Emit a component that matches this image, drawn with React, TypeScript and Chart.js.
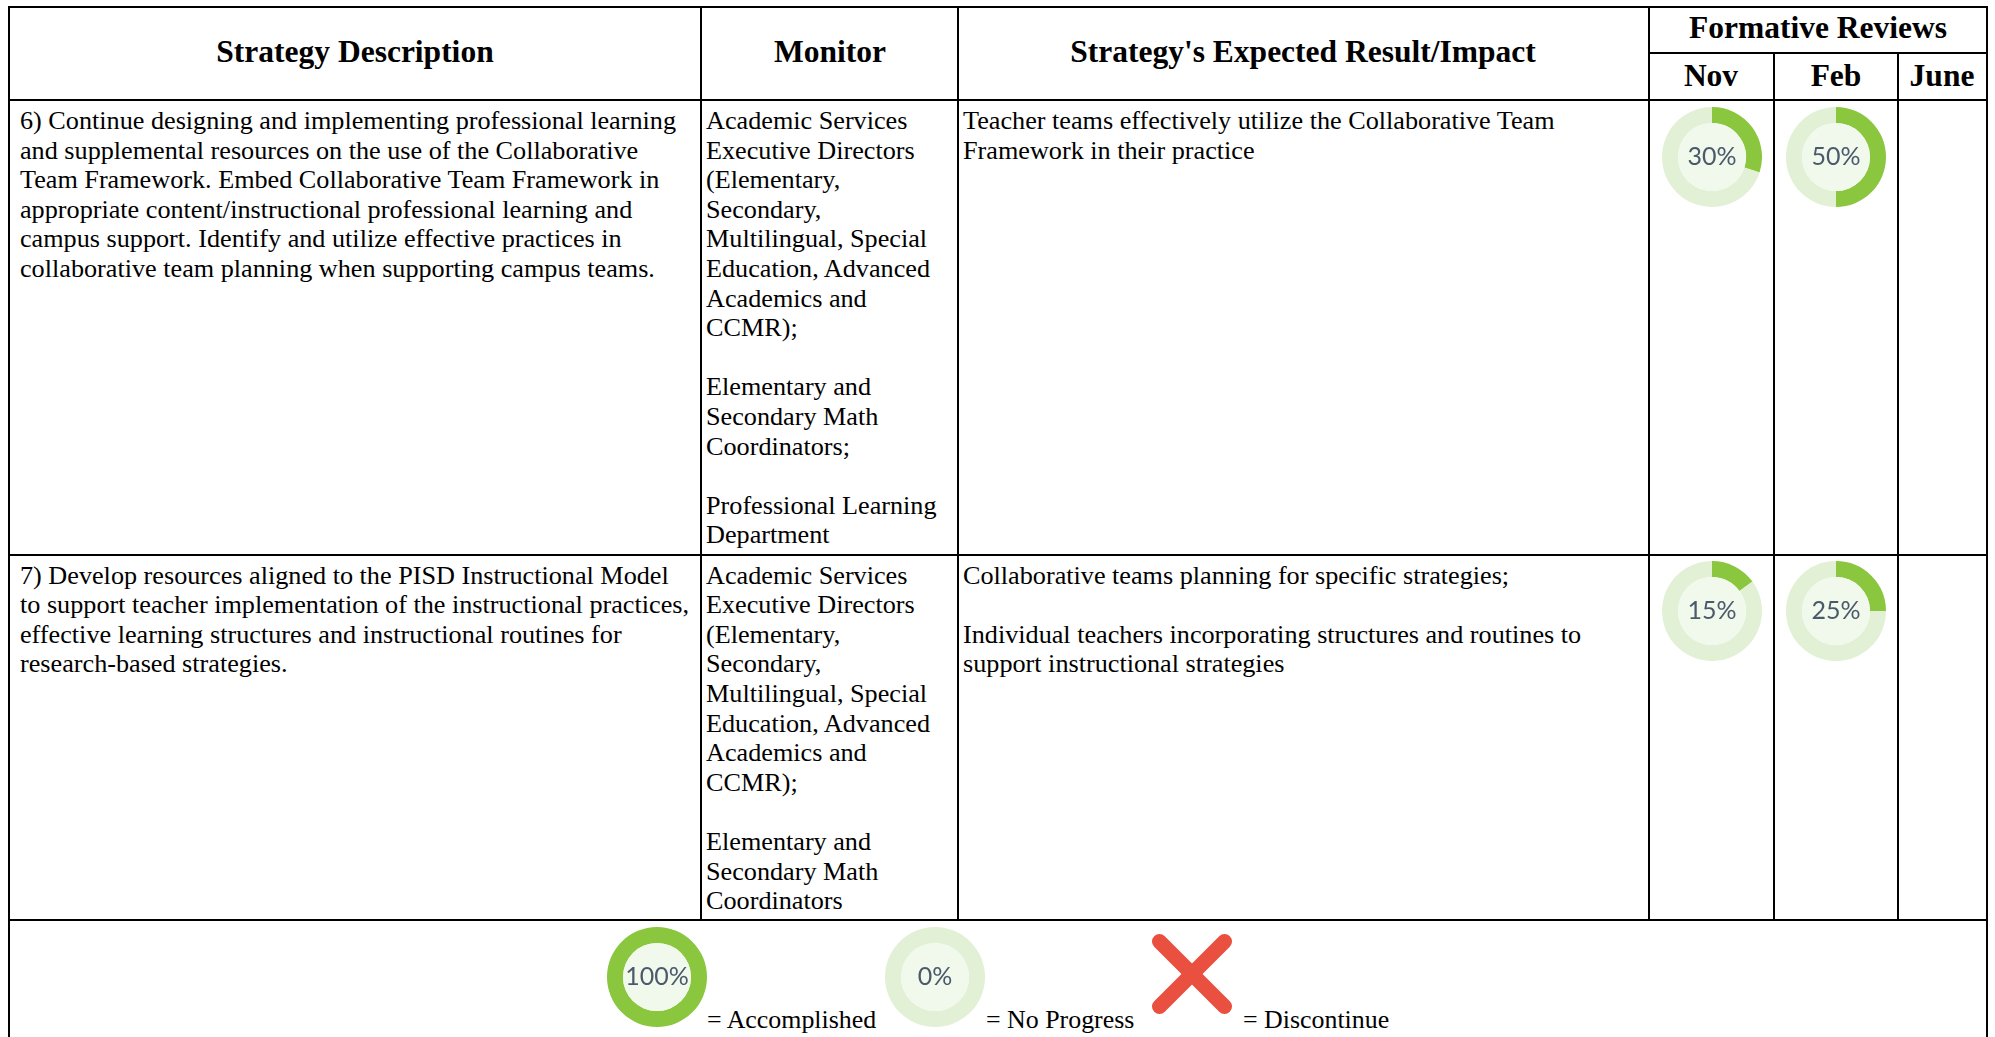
import React, { useEffect, useRef } from "react";
import { Chart, registerables } from "chart.js";

Chart.register(...registerables);

const headers = ["Strategy Description", "Monitor", "Strategy's Expected Result/Impact"];
const reviewTitle = "Formative Reviews";
const reviewMonths = ["Nov", "Feb", "June"];

const strategy6 = [
  "6) Continue designing and implementing professional learning",
  "and supplemental resources on the use of the Collaborative",
  "Team Framework. Embed Collaborative Team Framework in",
  "appropriate content/instructional professional learning and",
  "campus support. Identify and utilize effective practices in",
  "collaborative team planning when supporting campus teams.",
];
const monitor6 = [
  "Academic Services", "Executive Directors", "(Elementary,", "Secondary,",
  "Multilingual, Special", "Education, Advanced", "Academics and", "CCMR);", "",
  "Elementary and", "Secondary Math", "Coordinators;", "",
  "Professional Learning", "Department",
];
const impact6 = [
  "Teacher teams effectively utilize the Collaborative Team",
  "Framework in their practice",
];
const strategy7 = [
  "7) Develop resources aligned to the PISD Instructional Model",
  "to support teacher implementation of the instructional practices,",
  "effective learning structures and instructional routines for",
  "research-based strategies.",
];
const monitor7 = [
  "Academic Services", "Executive Directors", "(Elementary,", "Secondary,",
  "Multilingual, Special", "Education, Advanced", "Academics and", "CCMR);", "",
  "Elementary and", "Secondary Math", "Coordinators",
];
const impact7 = [
  "Collaborative teams planning for specific strategies;", "",
  "Individual teachers incorporating structures and routines to",
  "support instructional strategies",
];

const row6Reviews = [30, 50];
const row7Reviews = [15, 25];
const legendAccomplished = 100;
const legendNoProgress = 0;
const legendLabels = ["= Accomplished", "= No Progress", "= Discontinue"];
const crossStrokeA = [{ x: 0, y: 0 }, { x: 1, y: 1 }];
const crossStrokeB = [{ x: 0, y: 1 }, { x: 1, y: 0 }];

const SERIF = '"Liberation Serif", "Times New Roman", serif';
const DONE = "#8AC73F";
const TODO = "#E2F0D5";
const HOLE = "#F1F8EC";
const RED = "#E95040";

function Donut({ value, cx, cy }: { value: number; cx: number; cy: number }) {
  const ref = useRef<HTMLCanvasElement>(null);
  useEffect(() => {
    const chart = new Chart(ref.current!, {
      type: "doughnut",
      data: {
        labels: ["Progress", "Remaining"],
        datasets: [{ data: [value, 100 - value], backgroundColor: [DONE, TODO], borderWidth: 0 }],
      },
      options: {
        animation: false,
        responsive: false,
        cutout: "68%",
        layout: { padding: 0 },
        plugins: { legend: { display: false }, tooltip: { enabled: false } },
      },
      plugins: [{
        id: "centerLabel",
        afterDraw(c: any) {
          const { ctx, width, height } = c;
          ctx.save();
          ctx.beginPath();
          ctx.arc(width / 2, height / 2, 34, 0, Math.PI * 2);
          ctx.fillStyle = HOLE;
          ctx.fill();
          ctx.fillStyle = "#4A5A6B";
          ctx.font = '25px Lato, "Open Sans", sans-serif';
          ctx.textAlign = "center";
          ctx.textBaseline = "middle";
          ctx.fillText(`${value}%`, width / 2, height / 2);
          ctx.restore();
        },
      }],
    } as any);
    return () => chart.destroy();
  }, [value]);
  return (
    <canvas
      ref={ref}
      width={100}
      height={100}
      style={{ position: "absolute", left: cx - 50, top: cy - 50, width: 100, height: 100 }}
    />
  );
}

function Cross({ cx, cy }: { cx: number; cy: number }) {
  const ref = useRef<HTMLCanvasElement>(null);
  useEffect(() => {
    const stroke = (data: { x: number; y: number }[]) => ({
      data,
      showLine: true,
      borderColor: RED,
      borderWidth: 15,
      borderCapStyle: "round",
      pointRadius: 0,
    });
    const chart = new Chart(ref.current!, {
      type: "scatter",
      data: { datasets: [stroke(crossStrokeA), stroke(crossStrokeB)] },
      options: {
        animation: false,
        responsive: false,
        layout: { padding: 0 },
        scales: {
          x: { display: false, min: -0.192, max: 1.192 },
          y: { display: false, min: -0.192, max: 1.192 },
        },
        plugins: { legend: { display: false }, tooltip: { enabled: false } },
      },
    } as any);
    return () => chart.destroy();
  }, []);
  return (
    <canvas
      ref={ref}
      width={90}
      height={90}
      style={{ position: "absolute", left: cx - 45, top: cy - 45, width: 90, height: 90 }}
    />
  );
}

function H({ x1, x2, y }: { x1: number; x2: number; y: number }) {
  return <div style={{ position: "absolute", left: x1 - 1, top: y - 1, width: x2 - x1 + 2, height: 2, background: "#000" }} />;
}
function V({ x, y1, y2 }: { x: number; y1: number; y2: number }) {
  return <div style={{ position: "absolute", left: x - 1, top: y1 - 1, width: 2, height: y2 - y1 + 2, background: "#000" }} />;
}

const LINE = 29.6;
const BODY = 26.2;
const LEGEND_TEXT = 25.9;

function Lines({ lines, x, cy }: { lines: string[]; x: number; cy: number }) {
  return (
    <div style={{ position: "absolute", left: x, top: cy - LINE / 2, fontSize: BODY, lineHeight: `${LINE}px`, whiteSpace: "pre" }}>
      {lines.map((l, i) => <div key={i} style={{ height: LINE }}>{l || " "}</div>)}
    </div>
  );
}

function Head({ text, cx, cy }: { text: string; cx: number; cy: number }) {
  return (
    <div style={{ position: "absolute", left: cx - 300, width: 600, top: cy - 20, height: 40, lineHeight: "40px", textAlign: "center", fontSize: 31.5, fontWeight: 700 }}>
      {text}
    </div>
  );
}

function Label({ text, x, cy }: { text: string; x: number; cy: number }) {
  return <div style={{ position: "absolute", left: x, top: cy - 15, lineHeight: "30px", fontSize: LEGEND_TEXT, whiteSpace: "pre" }}>{text}</div>;
}

export default function App() {
  useEffect(() => {
    document.body.style.margin = "0";
  }, []);
  const L = 9, R = 1987, T = 7, HB = 100, R1 = 555, R2 = 920, C1 = 701, C2 = 958, C3 = 1649, C4 = 1774, C5 = 1898;
  return (
    <div style={{ position: "fixed", left: 0, top: 0, width: 1995, height: 1037, overflow: "hidden", background: "#fff", color: "#000", fontFamily: SERIF }}>
      <H x1={L} x2={R} y={T} />
      <H x1={C3} x2={R} y={53} />
      <H x1={L} x2={R} y={HB} />
      <H x1={L} x2={R} y={R1} />
      <H x1={L} x2={R} y={R2} />
      <V x={L} y1={T} y2={1037} />
      <V x={R} y1={T} y2={1037} />
      <V x={C1} y1={T} y2={R2} />
      <V x={C2} y1={T} y2={R2} />
      <V x={C3} y1={T} y2={R2} />
      <V x={C4} y1={53} y2={R2} />
      <V x={C5} y1={53} y2={R2} />

      <Head text={headers[0]} cx={355} cy={52} />
      <Head text={headers[1]} cx={830} cy={52} />
      <Head text={headers[2]} cx={1303} cy={52} />
      <Head text={reviewTitle} cx={1818} cy={28} />
      <Head text={reviewMonths[0]} cx={1711} cy={76} />
      <Head text={reviewMonths[1]} cx={1836} cy={76} />
      <Head text={reviewMonths[2]} cx={1942} cy={76} />

      <Lines lines={strategy6} x={20} cy={120.9} />
      <Lines lines={monitor6} x={706} cy={120.9} />
      <Lines lines={impact6} x={963} cy={120.9} />
      <Lines lines={strategy7} x={20} cy={575.4} />
      <Lines lines={monitor7} x={706} cy={575.4} />
      <Lines lines={impact7} x={963} cy={575.4} />

      <Donut value={row6Reviews[0]} cx={1712} cy={157} />
      <Donut value={row6Reviews[1]} cx={1836} cy={157} />
      <Donut value={row7Reviews[0]} cx={1712} cy={611} />
      <Donut value={row7Reviews[1]} cx={1836} cy={611} />

      <Donut value={legendAccomplished} cx={657} cy={977} />
      <Label text={legendLabels[0]} x={707} cy={1020} />
      <Donut value={legendNoProgress} cx={935} cy={977} />
      <Label text={legendLabels[1]} x={986} cy={1020} />
      <Cross cx={1192} cy={974} />
      <Label text={legendLabels[2]} x={1243} cy={1020} />
    </div>
  );
}
